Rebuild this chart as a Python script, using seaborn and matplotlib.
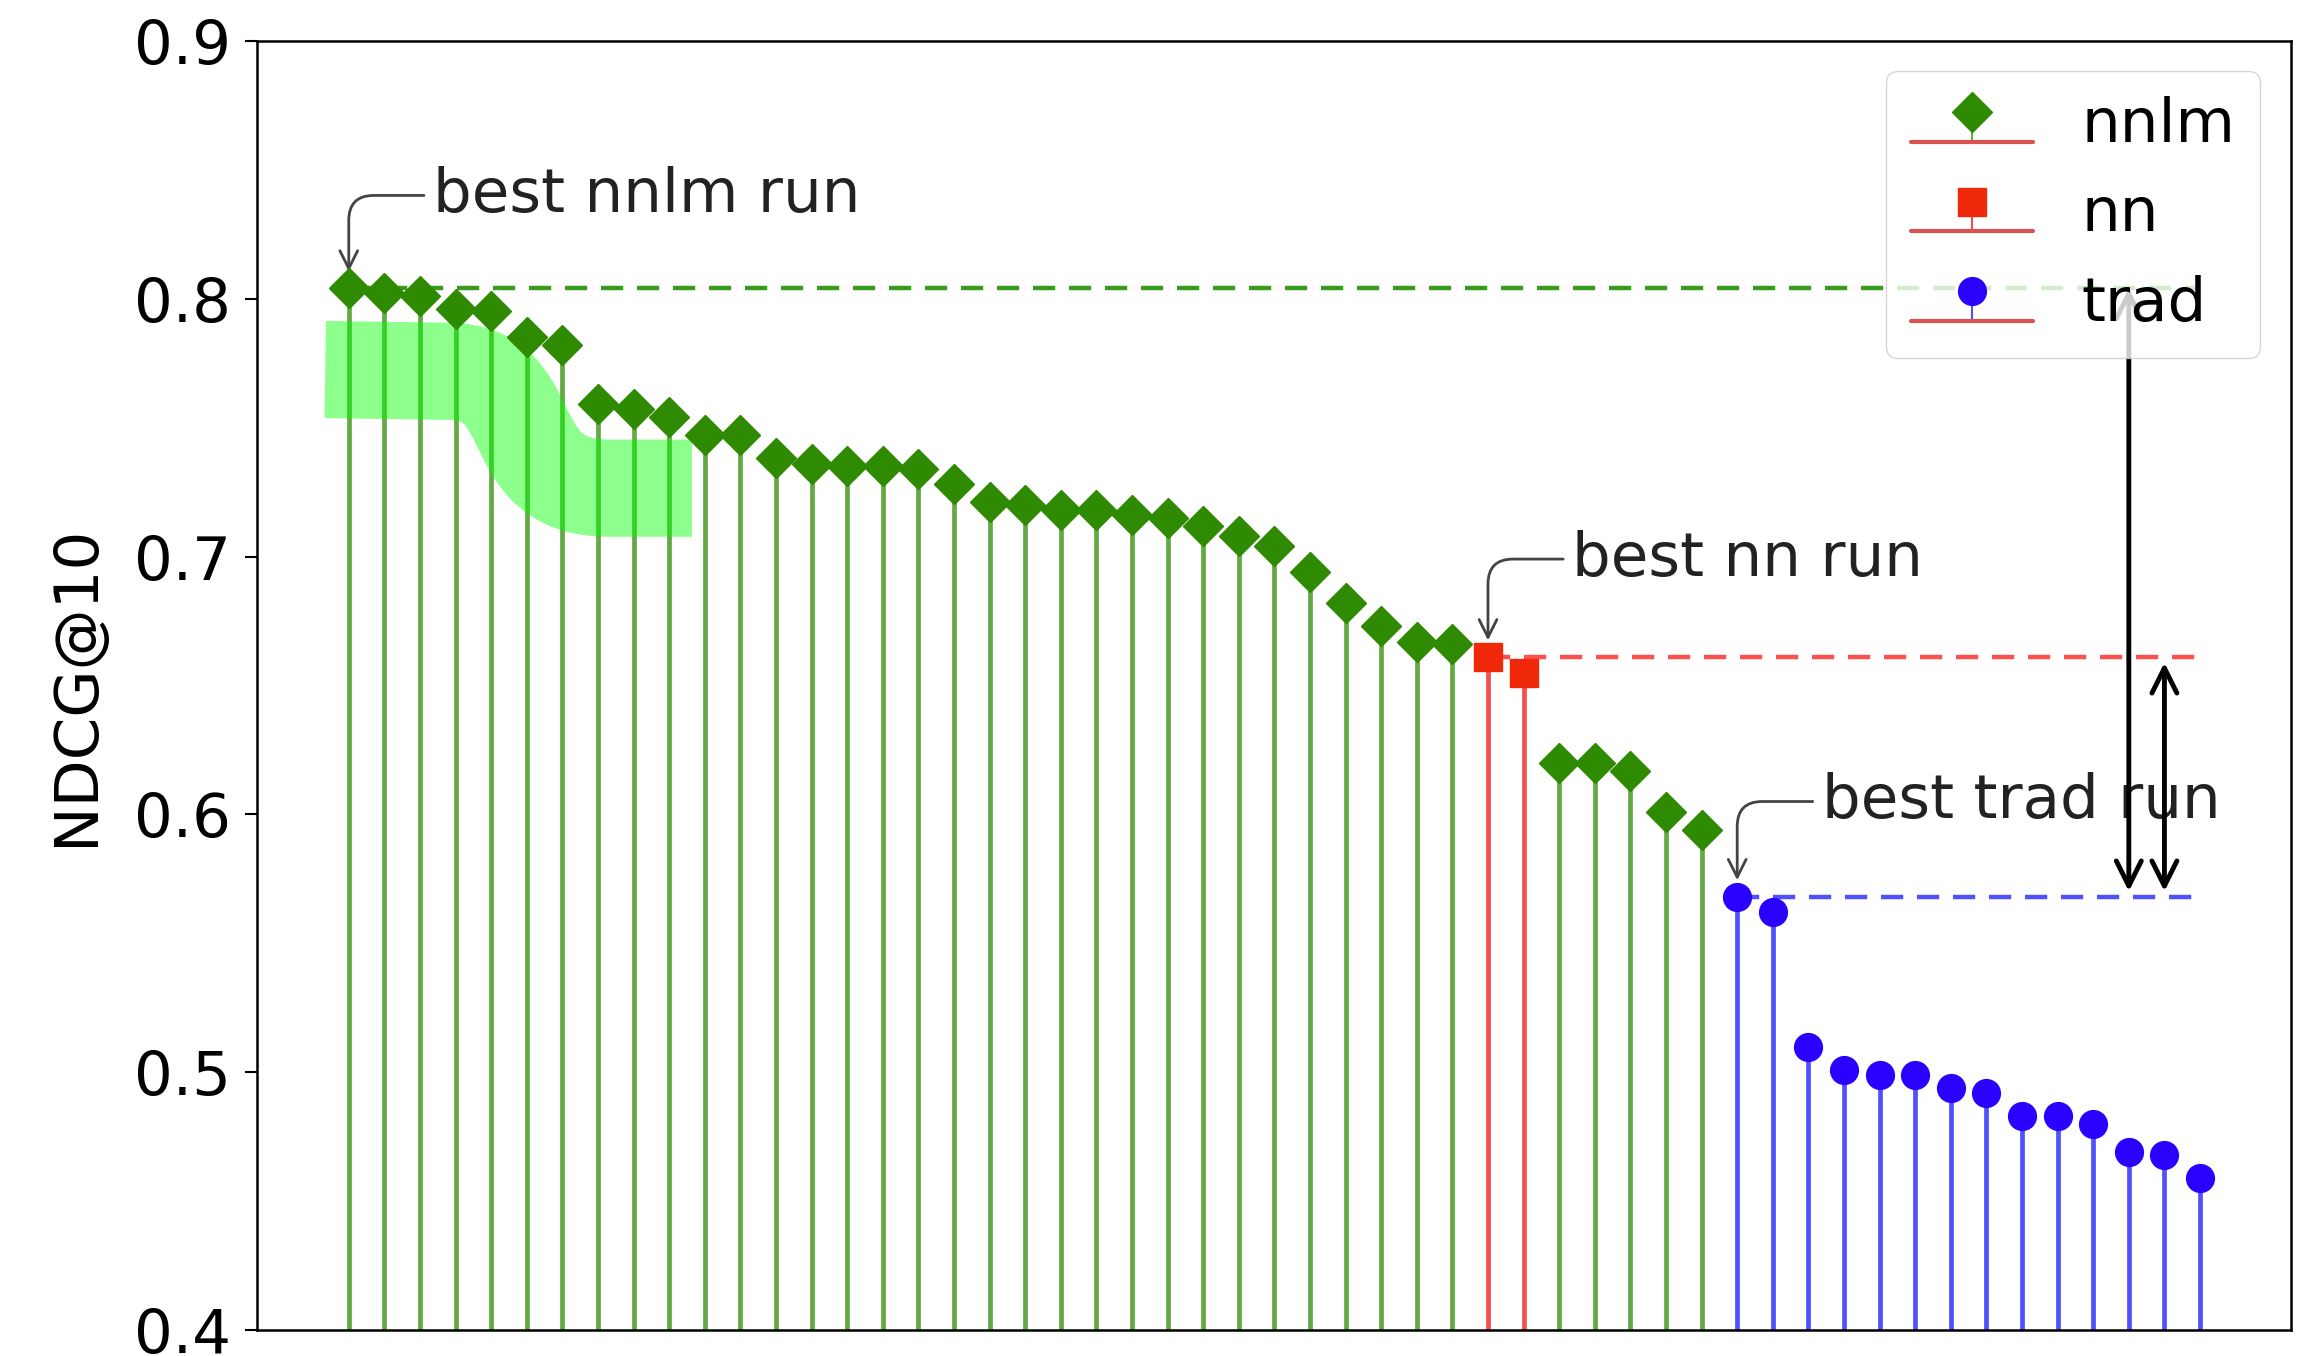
import numpy as np
import matplotlib
matplotlib.use("Agg")
import matplotlib.pyplot as plt
import seaborn as sns
from matplotlib.path import Path
from matplotlib.patches import PathPatch

# ---------------- data ----------------
ndcg = [0.804, 0.802, 0.801, 0.796, 0.795, 0.785, 0.782, 0.759, 0.757, 0.754,
        0.747, 0.747, 0.738, 0.736, 0.735, 0.735, 0.734, 0.728, 0.721, 0.720,
        0.718, 0.718, 0.716, 0.715, 0.712, 0.708, 0.704, 0.694, 0.682, 0.673,
        0.667, 0.666, 0.661, 0.655, 0.620, 0.620, 0.617, 0.601, 0.594, 0.568,
        0.562, 0.510, 0.501, 0.499, 0.499, 0.494, 0.492, 0.483, 0.483, 0.480,
        0.469, 0.468, 0.459]
system = (["nnlm"] * 32 + ["nn"] * 2 + ["nnlm"] * 5 + ["trad"] * 14)
groups = ["nnlm", "nn", "trad"]
annot_texts = ["best nnlm run", "best nn run", "best trad run"]
y_ticks = [0.4, 0.5, 0.6, 0.7, 0.8, 0.9]
y_label = "NDCG@10"

# ---------------- style ----------------
sns.set_style("ticks")
plt.rcParams.update({
    "font.family": ["DejaVu Sans"],
    "axes.edgecolor": "black",
    "axes.linewidth": 1.8,
    "xtick.major.size": 9,
    "ytick.major.size": 9,
    "ytick.major.width": 1.5,
    "ytick.color": "black",
    "text.color": "black",
    "axes.labelcolor": "black",
})

FS = 44
marker_style = {"nnlm": "D", "nn": "s", "trad": "o"}
marker_col = {"nnlm": "#2e8a00", "nn": "#f0280a", "trad": "#2a00ff"}
stem_col = {"nnlm": "#63aa45", "nn": "#f25050", "trad": "#5050ff"}
dash_col = {"nnlm": "#3c9a1c", "nn": "#ff5050", "trad": "#5050ff"}

fig = plt.figure(figsize=(23, 13.56), dpi=100)
ax = fig.add_axes([0.1117, 0.019, 0.8843, 0.951])

x_all = np.arange(len(ndcg))
vals = np.array(ndcg)
sys_arr = np.array(system)

for g in groups:
    m = sys_arr == g
    ml, sl, bl = ax.stem(x_all[m], vals[m], linefmt="-", markerfmt=marker_style[g],
                         basefmt="-", label=g)
    ml.set_color(marker_col[g])
    ml.set_markersize(20)
    ml.set_zorder(4)
    sl.set_color(stem_col[g])
    sl.set_linewidth(3.4)
    bl.set_color("#d9534f")
    bl.set_linewidth(3)

# best-run dashed lines and annotations
text_pos = {"nnlm": (2.36, 0.840), "nn": (34.36, 0.699), "trad": (41.37, 0.605)}
for g, t in zip(groups, annot_texts):
    m = sys_arr == g
    best_i = x_all[m][np.argmax(vals[m])]
    best_v = vals[m].max()
    ax.plot([best_i, x_all[-1]], [best_v, best_v], color=dash_col[g], lw=3.2,
            dashes=(5, 3.1), zorder=3)
    ax.annotate(t, xy=(best_i, best_v), xytext=text_pos[g], ha="left", va="center",
                fontsize=FS, color="#222222",
                arrowprops=dict(arrowstyle="->", color="#444444", lw=2,
                                mutation_scale=32, shrinkA=4, shrinkB=12,
                                connectionstyle="angle,angleA=0,angleB=90,rad=25"))

best = {g: vals[sys_arr == g].max() for g in groups}
ax.annotate("", xy=(50, best["trad"]), xytext=(50, best["nnlm"]),
            arrowprops=dict(arrowstyle="<->", color="black", lw=3.5,
                            mutation_scale=45, shrinkA=0, shrinkB=4))
ax.annotate("", xy=(51, best["trad"]), xytext=(51, best["nn"]),
            arrowprops=dict(arrowstyle="<->", color="black", lw=3.5,
                            mutation_scale=45, shrinkA=4, shrinkB=4))

# highlighter band
verts = [(-0.66, 0.7725), (2.8, 0.7718), (5.5, 0.7715), (4.2, 0.7265),
         (7.3, 0.7265), (9.64, 0.7265)]
codes = [Path.MOVETO, Path.LINETO, Path.CURVE4, Path.CURVE4, Path.CURVE4, Path.LINETO]
band = PathPatch(Path(verts, codes), facecolor="none", edgecolor="#00ff00",
                 alpha=0.45, lw=70, capstyle="butt", joinstyle="round", zorder=3)
ax.add_patch(band)

ax.set_ylim(0.4, 0.9)
ax.set_xlim(-2.58, 54.55)
ax.set_yticks(y_ticks)
ax.set_yticklabels([f"{v:.1f}" for v in y_ticks], fontsize=FS)
ax.tick_params(axis="y", pad=10)
ax.set_xticks([])
ax.set_ylabel(y_label, fontsize=FS, labelpad=20)

leg = ax.legend(loc="upper right", fontsize=FS, framealpha=0.8, borderaxespad=0.5)
leg.set_zorder(10)

fig.savefig("out.png", dpi=100)
